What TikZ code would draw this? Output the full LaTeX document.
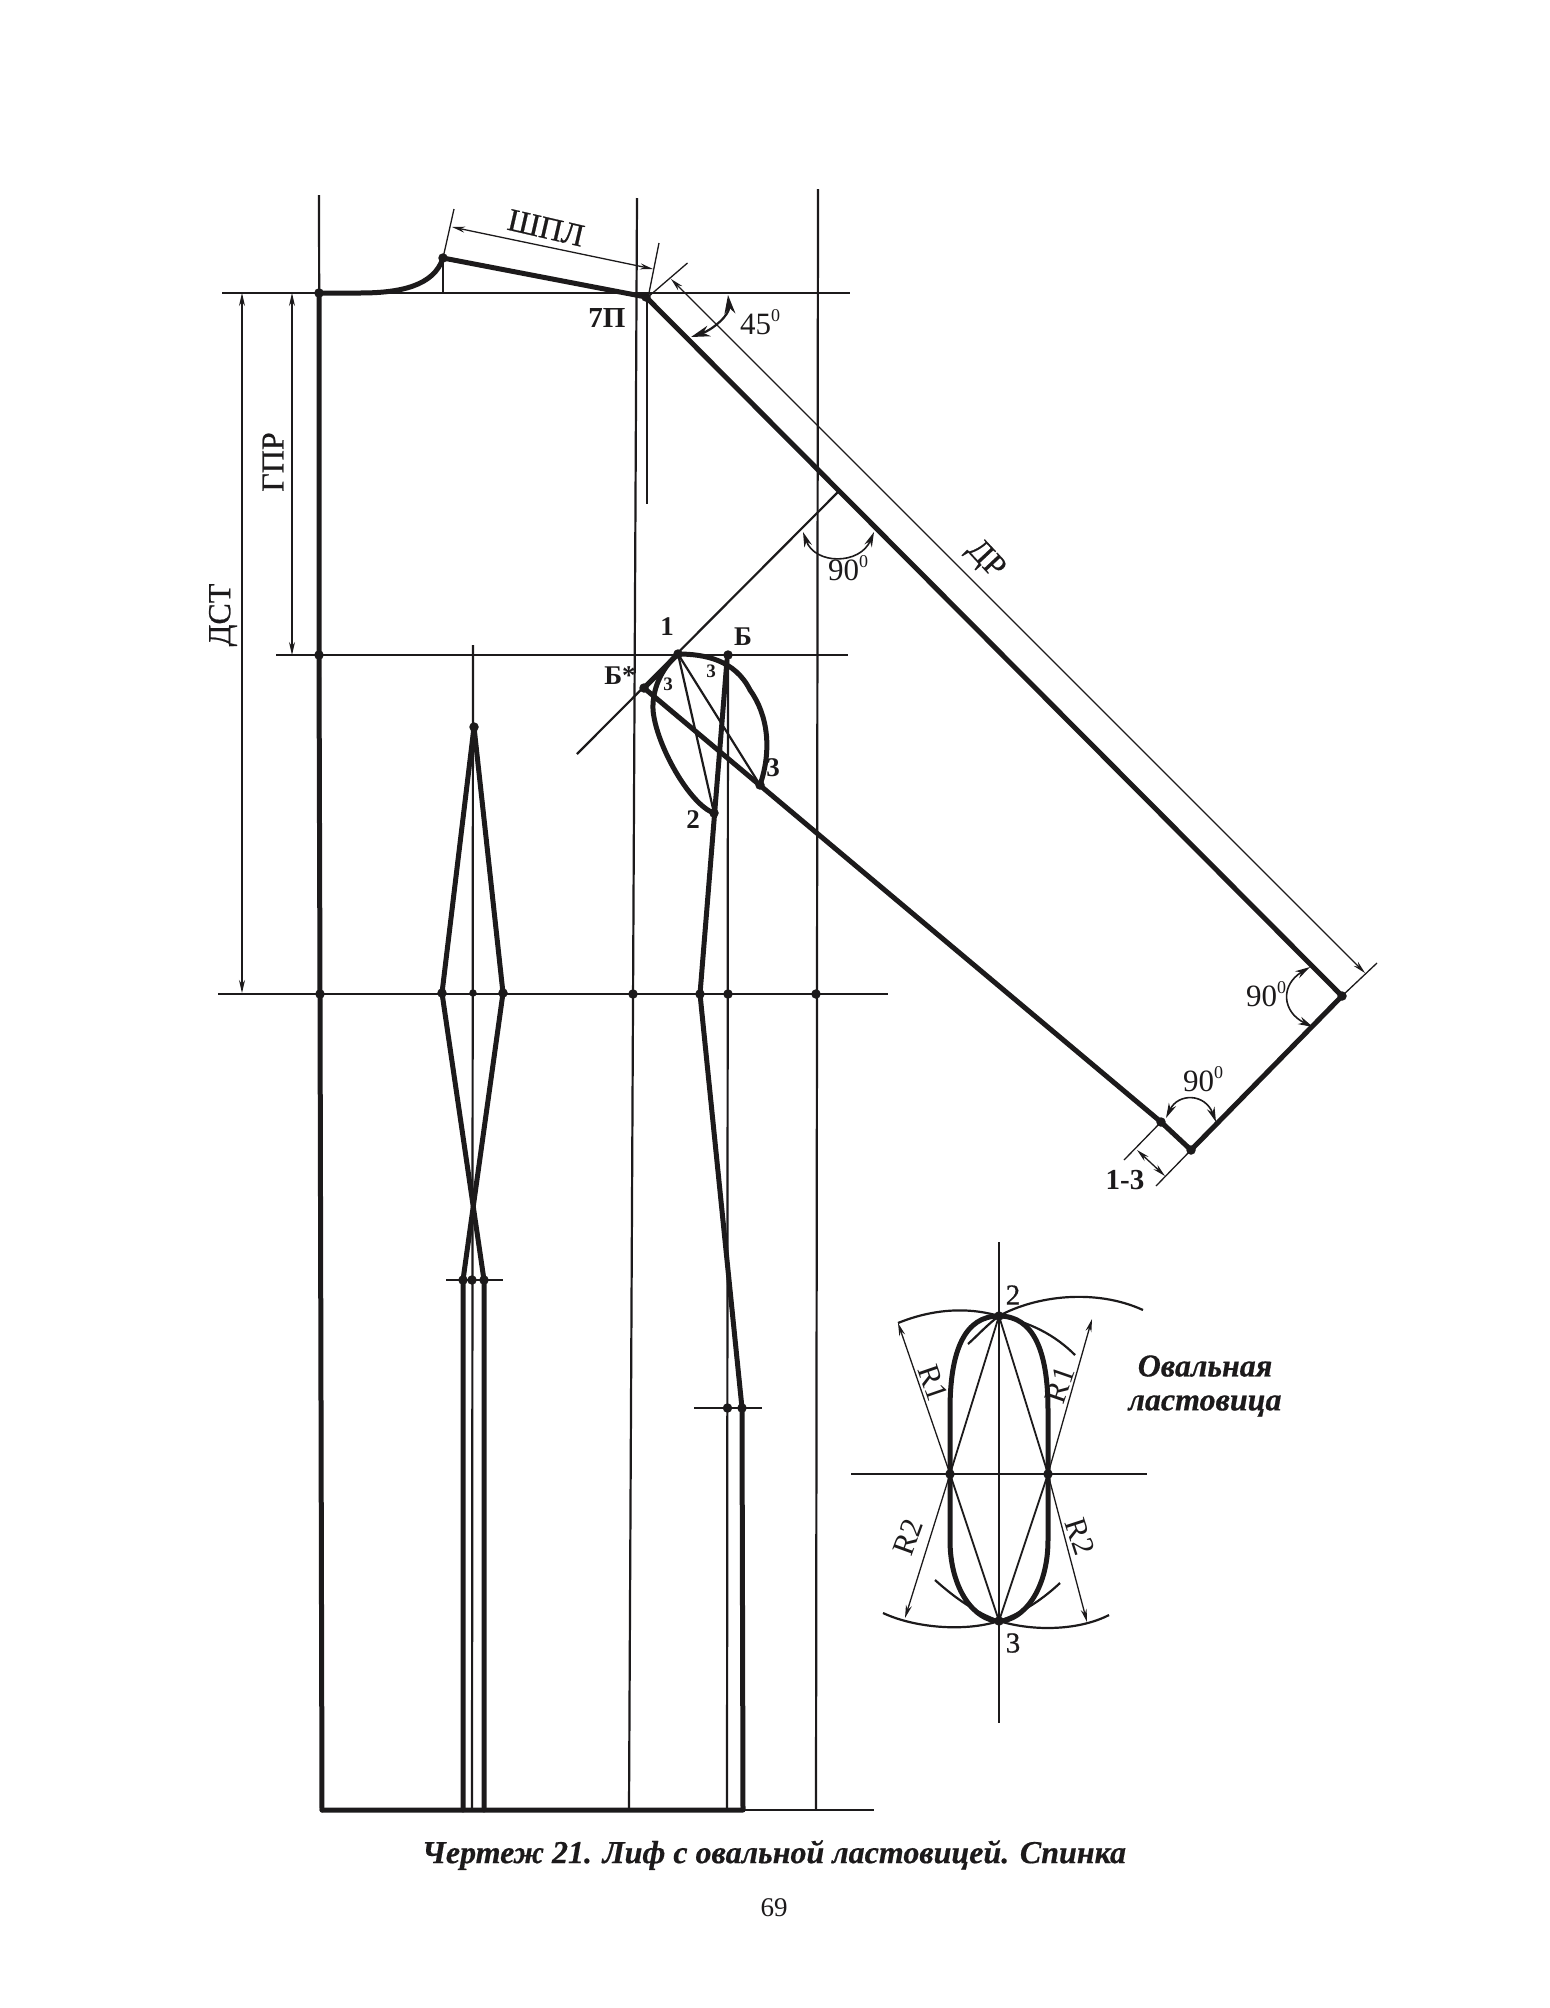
\documentclass[tikz,border=0pt]{standalone}
\usepackage{fontspec}
\setmainfont{Liberation Serif}
\newfontfamily\semif[FakeBold=0.7]{Liberation Serif}
\newfontfamily\capf[FakeBold=0.5]{Liberation Serif Bold Italic}
\usetikzlibrary{arrows.meta}
\newcommand{\fs}[1]{\fontsize{#1}{#1}\selectfont}
\newcommand{\dg}{\raisebox{.42em}{\fs{18}0}}
\definecolor{ink}{HTML}{1C1A1B}
\tikzset{
  thick line/.style={line width=5pt,line cap=round,line join=round,draw=ink},
  mid line/.style={line width=2.2pt,draw=ink},
  dim line/.style={line width=1.3pt,draw=ink},
  guide line/.style={line width=1.8pt,draw=ink},
  dim arrow/.style={dim line,{Stealth[length=13pt,width=6pt]}-{Stealth[length=13pt,width=6pt]}},
  one arrow/.style={dim line,-{Stealth[length=13pt,width=6pt]}},
  ang arrow/.style={line width=1.6pt,draw=ink,{Stealth[length=15pt,width=8pt]}-{Stealth[length=15pt,width=8pt]}},
  big arrow/.style={line width=2.2pt,draw=ink,{Stealth[length=19pt,width=11pt]}-{Stealth[length=19pt,width=11pt]}},
  lab/.style={inner sep=0pt,text=ink,font=\semif\fs{32}},
  blab/.style={inner sep=0pt,text=ink,font=\fs{27}\bfseries},
  slab/.style={inner sep=0pt,text=ink,font=\fs{19}\bfseries},
  numlab/.style={inner sep=0pt,text=ink,font=\fs{31}},
  rlab/.style={inner sep=0pt,text=ink,font=\fs{31}},
  captxt/.style={inner sep=0pt,text=ink,font=\capf\fs{32},align=center},
  ptdot/.style={circle,fill=ink,inner sep=0pt,minimum size=9.5pt},
  sptdot/.style={circle,fill=ink,inner sep=0pt,minimum size=7.5pt},
}
\begin{document}
\begin{tikzpicture}[x=1pt,y=-1pt]
\useasboundingbox (0,0) rectangle (1550,2008);
% key points
\coordinate (NT) at (319,195);
\coordinate (A) at (319,293);
\coordinate (Ch) at (319,655);
\coordinate (Wl) at (320,994);
\coordinate (BL) at (322,1810);
\coordinate (Neck) at (443,258);
\coordinate (P7) at (646,297);
\coordinate (P1) at (678,654);
\coordinate (B) at (728,655);
\coordinate (Bs) at (644,688);
\coordinate (T3) at (760,785);
\coordinate (T2) at (714,813);
\coordinate (C1) at (1161,1122);
\coordinate (C2) at (1191,1150);
\coordinate (C3) at (1342,996);
\coordinate (WA) at (700,994);
\coordinate (WB) at (728,994);
\coordinate (WC) at (633,994);
\coordinate (WD) at (816,994);
\coordinate (HA) at (742,1408);
\coordinate (HB) at (727.5,1408);
\coordinate (BR) at (743,1810);
\coordinate (DT) at (474,727);
\coordinate (DL) at (442,993);
\coordinate (DM) at (473,993);
\coordinate (DR) at (503,993);
\coordinate (DH1) at (463,1280);
\coordinate (DH2) at (472,1280);
\coordinate (DH3) at (484,1280);
\coordinate (G2) at (999,1316);
\coordinate (G3) at (999,1621);
\coordinate (GL) at (950,1474);
\coordinate (GR) at (1048,1474);
% construction lines
\draw[mid line] (NT) -- (BL);
\draw[mid line] (222,293) -- (850,293);
\draw[dim line] (222,293) -- (319,293);
\draw[mid line] (276,655) -- (848,655);
\draw[mid line] (218,994) -- (888,994);
\draw[mid line] (446,1280) -- (503,1280);
\draw[mid line] (694,1408) -- (762,1408);
\draw[mid line] (637,198) -- (629,1810);
\draw[mid line] (818,189) -- (816,1810);
\draw[mid line] (B) -- (727,1810);
\draw[mid line] (473,645) -- (472,1810);
\draw[dim line] (647,297) -- (647,504);
\draw[mid line] (Neck) -- (443,293);
\draw[mid line] (577,754) -- (838,492);
\draw[mid line] (P1) -- (T2);
\draw[mid line] (P1) -- (T3);
\draw[mid line] (743,1810) -- (874,1810);
% thick contour
\draw[thick line] (BL) -- (Wl) -- (Ch) -- (A);
\draw[thick line] (A) -- (360,293) .. controls (400,293) and (434,286) .. (Neck) -- (P7) -- (C3) -- (C2) -- (C1) -- (Bs) -- (P1);
\draw[thick line] (BL) -- (BR) -- (HA) -- (WA) -- (727,660);
\draw[thick line] (P1) .. controls (705,654) and (735,660) .. (750,690) .. controls (768,715) and (772,750) .. (T3);
\draw[thick line] (P1) .. controls (665,665) and (652,685) .. (653,710) .. controls (656,745) and (690,805) .. (T2);
% dart
\draw[thick line] (DT) -- (DL) -- (DH3) -- (484,1810);
\draw[thick line] (DT) -- (DR) -- (DH1) -- (463,1810);
% dimension ticks
\draw[dim line] (454,209) -- (Neck);
\draw[dim line] (659,243) -- (649,293);
\draw[dim line] (648,297) -- (687.5,263);
\draw[dim line] (C3) -- (1377,963);
\draw[dim line] (C1) -- (1124,1160);
\draw[dim line] (C2) -- (1156,1186);
% dimension arrows
\draw[dim arrow] (452,227) -- (653,269);
\draw[dim arrow] (671,279) -- (1365,973);
\draw[dim arrow] (292,293) -- (292,655);
\draw[dim arrow] (242,293) -- (242,993);
\draw[dim arrow] (1137,1150) -- (1165,1176);
% angle arrows
\draw[big arrow] (728,295) .. controls (730,315) and (712,330) .. (691,337);
\draw[ang arrow] (803,532) .. controls (815,565) and (860,565) .. (874,532);
\draw[ang arrow] (1310,967) .. controls (1280,985) and (1282,1012) .. (1313,1027);
\draw[ang arrow] (1166,1118) .. controls (1178,1093) and (1205,1093) .. (1216,1122);
% gusset
\draw[mid line] (999,1242) -- (999,1723);
\draw[mid line] (851,1474) -- (1147,1474);
\draw[guide line] (G2) -- (GL) -- (G3) -- (GR) -- cycle;
\draw[one arrow] (GL) -- (898,1323);
\draw[one arrow] (GR) -- (1092,1319);
\draw[one arrow] (GL) -- (905,1618);
\draw[one arrow] (GR) -- (1087,1622);
\draw[mid line] (898,1323) .. controls (930,1310) and (965,1306) .. (G2) .. controls (1030,1322) and (1055,1335) .. (1075,1355);
\draw[mid line] (968,1344) .. controls (978,1335) and (988,1324) .. (G2) .. controls (1035,1296) and (1095,1288) .. (1143,1310);
\draw[mid line] (883,1613) .. controls (915,1628) and (965,1632) .. (G3) .. controls (1025,1612) and (1045,1597) .. (1060,1583);
\draw[mid line] (935,1580) .. controls (955,1598) and (975,1612) .. (G3) .. controls (1035,1632) and (1080,1630) .. (1109,1615);
\draw[thick line] (G2) .. controls (965,1316) and (950,1350) .. (950,1410) -- (950,1540) .. controls (950,1590) and (975,1621) .. (G3) .. controls (1023,1621) and (1048,1590) .. (1048,1540) -- (1048,1410) .. controls (1048,1350) and (1033,1316) .. cycle;
% dots
\foreach \p in {A,Ch,Wl,Neck,P7,P1,B,Bs,T3,T2,C1,C2,C3,WA,WB,WC,WD,HA,HB,DT,DL,DR,DH1,DH2,DH3,G2,G3,GL,GR}
  \node[ptdot] at (\p) {};
\node[sptdot] at (DM) {};
% labels
\node[lab,rotate=-13] (lshpl) at (546,228) {ШПЛ};
\node[lab,rotate=90] (lgpr) at (273,462) {ГПР};
\node[lab,rotate=90] (ldst) at (223,615) {ДСТ};
\node[lab,rotate=-47] (ldr) at (985,560) {ДР};
\node[inner sep=0pt,text=ink,font=\fs{29}\bfseries] (l7p) at (607,318) {7П};
\node[numlab] (l45) at (760,322) {45\dg};
\node[numlab] (l90a) at (848,568) {90\dg};
\node[numlab] (l90b) at (1266,994) {90\dg};
\node[numlab] (l90c) at (1203,1079) {90\dg};
\node[inner sep=0pt,text=ink,font=\fs{29}\bfseries] (l13) at (1125,1180) {1-3};
\node[blab] (l1) at (667,627) {1};
\node[blab] (lB) at (743,637) {Б};
\node[blab] (lBs) at (620,676) {Б*};
\node[slab] (l3a) at (668,684) {3};
\node[slab] (l3b) at (711,671) {3};
\node[blab] (l3c) at (773,768) {3};
\node[blab] (l2) at (693,820) {2};
\node[rlab,rotate=-71] (r1a) at (933,1383) {R1};
\node[rlab,rotate=71] (r1b) at (1060,1385) {R1};
\node[rlab,rotate=70] (r2a) at (908,1537) {R2};
\node[rlab,rotate=-72] (r2b) at (1080,1537) {R2};
\node[inner sep=0pt,text=ink,font=\semif\fs{29}] (g2) at (1013,1295) {2};
\node[inner sep=0pt,text=ink,font=\semif\fs{29}] (g3) at (1013,1643) {3};
\node[captxt] (tit) at (1205,1366) {Овальная};
\node[captxt] (tit2) at (1205,1406) {ластовица};
\node[captxt] (capt) at (774,1855) {Чертеж 21. Лиф с овальной ластовицей. Спинка};
\node[inner sep=0pt,text=ink,font=\fs{27}] (pg) at (774,1908) {69};
\end{tikzpicture}
\end{document}
